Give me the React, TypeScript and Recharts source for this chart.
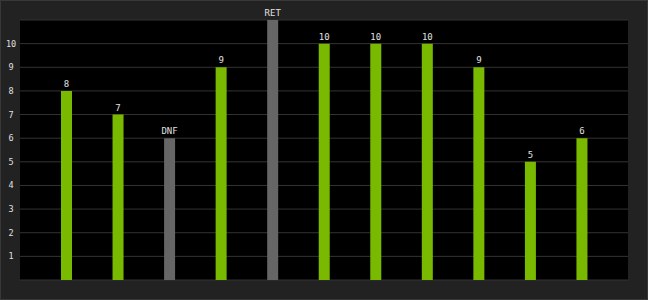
import { BarChart, Bar, XAxis, YAxis, CartesianGrid, Cell, LabelList } from "recharts";

// Finishing positions per round; DNF / RET shown as grey bars
const rounds = ["R1", "R2", "R3", "R4", "R5", "R6", "R7", "R8", "R9", "R10", "R11"];
const values = [8, 7, 6, 9, 11, 10, 10, 10, 9, 5, 6];
const labels = ["8", "7", "DNF", "9", "RET", "10", "10", "10", "9", "5", "6"];
const finished = [true, true, false, true, false, true, true, true, true, true, true];
const yTicks = [1, 2, 3, 4, 5, 6, 7, 8, 9, 10];

const GREEN = "#79b900";
const GREY = "#666666";
const GRID = "#333333";
const TEXT = "#e0e0e0";
const FONT = "'DejaVu Sans Mono', monospace";

const data = rounds.map((r, i) => ({ round: r, value: values[i], label: labels[i] }));

function YTick({ y, payload }: { x?: number; y?: number; payload?: { value: number } }) {
  return (
    <text x={10} y={y} dy={3} textAnchor="middle" fill={TEXT} fontSize={8.5} fontFamily={FONT}>
      {payload?.value}
    </text>
  );
}

export default function App() {
  return (
    <div
      style={{
        position: "fixed",
        left: 0,
        top: 0,
        width: 648,
        height: 300,
        boxSizing: "border-box",
        background: "#222222",
        border: "1px solid #383838",
      }}
    >
      <BarChart
        width={646}
        height={298}
        data={data}
        margin={{ top: 19, right: 19, left: 0, bottom: 19 }}
        style={{ position: "absolute", left: 0, top: 0 }}
      >
        <CartesianGrid vertical={false} stroke={GRID} fill="#000000" />
        <XAxis dataKey="round" hide padding={{ left: 21, right: 20 }} />
        <YAxis
          width={19}
          domain={[0, 11]}
          ticks={yTicks}
          axisLine={false}
          tickLine={false}
          tick={<YTick />}
        />
        <Bar dataKey="value" barSize={11} isAnimationActive={false}>
          {data.map((_, i) => (
            <Cell key={i} fill={finished[i] ? GREEN : GREY} />
          ))}
          <LabelList
            dataKey="label"
            position="top"
            offset={4}
            fill={TEXT}
            fontSize={9}
            fontFamily={FONT}
          />
        </Bar>
      </BarChart>
    </div>
  );
}
